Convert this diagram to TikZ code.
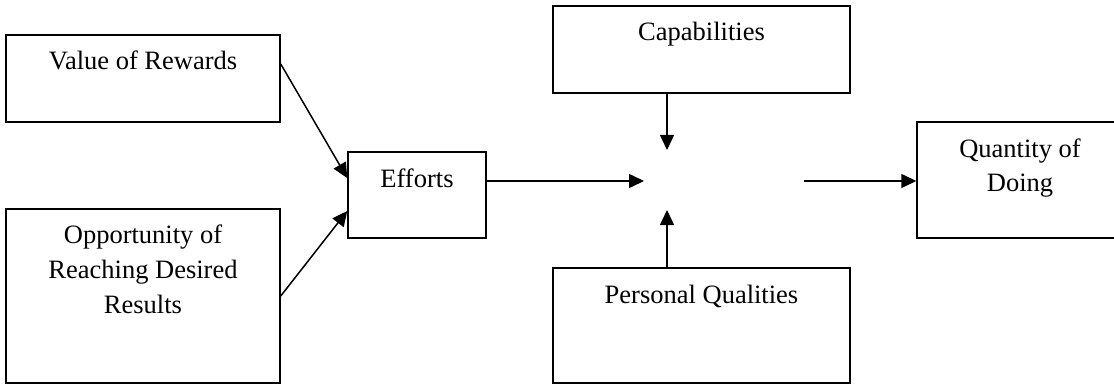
\documentclass[tikz,border=0pt]{standalone}
\usepackage{fontspec}
\setmainfont{Liberation Serif}
\usetikzlibrary{arrows.meta,calc}
\begin{document}
\begin{tikzpicture}[x=1pt,y=-1pt,
  box/.style={draw, line width=1.5pt, rectangle, inner sep=0pt},
  lbl/.style={anchor=base, align=center, inner sep=0pt, font=\fontsize{26.5}{35}\selectfont},
  arr/.style={line width=1.5pt, -{Triangle[length=15pt,width=14pt]}}]
\useasboundingbox (0,0) rectangle (1114,385);
% boxes
\node[box, minimum width=274pt, minimum height=87pt]  (val) at (143,78.5) {};
\node[box, minimum width=274pt, minimum height=174pt] (opp) at (143,296) {};
\node[box, minimum width=138pt, minimum height=86pt]  (eff) at (417,195) {};
\node[box, minimum width=297pt, minimum height=87pt]  (cap) at (701.5,49.5) {};
\node[box, minimum width=297pt, minimum height=115pt] (pq)  at (701.5,325.5) {};
\node[box, minimum width=206pt, minimum height=116pt] (qd)  at (1020,180) {};
% labels (base anchor = baseline of last line)
\node[lbl] (valt) at (143,70) {Value of Rewards};
\node[lbl] (oppt) at (143,313) {Opportunity of\\Reaching Desired\\Results};
\node[lbl] (efft) at (417,187) {Efforts};
\node[lbl] (capt) at (701.5,41) {Capabilities};
\node[lbl] (pqt)  at (701.5,303) {Personal Qualities};
\node[lbl] (qdt)  at (1020,192) {Quantity of\\Doing};
% free ends
\coordinate (hubL) at (644,181);
\coordinate (hubT) at (667,150);
\coordinate (hubB) at (667,210);
\coordinate (hubR) at (804,181);
% connectors
\draw[arr] ($(val.east)+(0,-14.5)$) -- ($(eff.west)+(0,-17)$);
\draw[arr] (opp.east) -- ($(eff.west)+(0,16)$);
\draw[arr] ($(eff.east)+(0,-14)$) -- (hubL);
\draw[arr] (cap.south -| hubT) -- (hubT);
\draw[arr] (pq.north -| hubB) -- (hubB);
\draw[arr] (hubR) -- (qd.west |- hubR);
\end{tikzpicture}
\end{document}
